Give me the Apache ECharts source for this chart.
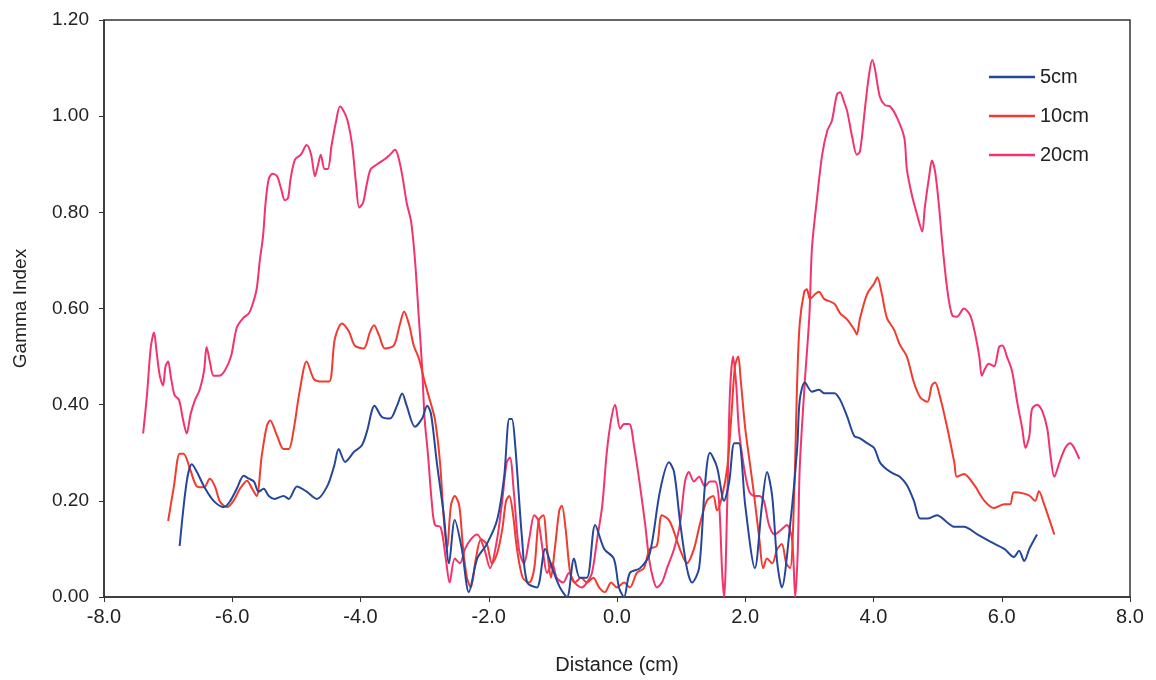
<!DOCTYPE html>
<html>
<head>
<meta charset="utf-8">
<script src="https://cdn.jsdelivr.net/npm/echarts@6/dist/echarts.min.js"></script>
<style>
  html, body { margin: 0; padding: 0; background: #ffffff; }
  #chart { width: 1156px; height: 680px; }
</style>
</head>
<body>
<div id="chart"></div>
<script>
// Gamma index profiles across the field at three depths
const seriesNames = ['5cm', '10cm', '20cm'];

const x5 = [-6.82,-6.71,-6.63,-6.55,-6.44,-6.29,-6.13,-6.04,-5.93,-5.82,-5.74,-5.66,-5.59,-5.51,-5.43,-5.34,-5.20,-5.12,-4.99,-4.84,-4.68,-4.52,-4.41,-4.34,-4.24,-4.10,-3.98,-3.90,-3.78,-3.67,-3.54,-3.43,-3.35,-3.28,-3.15,-3.04,-2.96,
  -2.90,-2.81,-2.70,-2.62,-2.53,-2.42,-2.31,-2.18,-2.03,-1.87,-1.76,-1.68,-1.64,-1.59,-1.48,-1.40,-1.25,-1.12,-1.01,-0.89,-0.78,-0.67,-0.58,-0.47,-0.34,-0.20,-0.05,0.03,0.11,0.20,0.36,0.51,0.67,0.81,0.89,0.98,1.09,1.17,1.28,1.37,1.45,1.56,1.67,1.75,1.83,1.90,2.00,2.15,2.26,2.34,2.42,2.50,2.57,2.70,2.81,2.85,
  2.93,3.04,3.15,3.23,3.39,3.48,3.59,3.70,3.79,3.90,4.01,4.10,4.21,4.32,4.41,4.52,4.63,4.73,4.84,4.99,5.15,5.26,5.41,5.62,5.82,6.04,6.19,6.27,6.35,6.43,6.55];
const y5 = [0.106,0.24,0.276,0.26,0.23,0.20,0.187,0.198,0.225,0.252,0.246,0.24,0.219,0.225,0.21,0.204,0.21,0.204,0.23,0.219,0.204,0.23,0.273,0.308,0.281,0.302,0.315,0.344,0.398,0.375,0.371,0.398,0.423,0.398,0.354,0.371,0.398,
  0.38,0.28,0.17,0.07,0.16,0.10,0.01,0.08,0.11,0.16,0.25,0.37,0.37,0.32,0.12,0.03,0.02,0.10,0.06,0.02,0.00,0.08,0.04,0.04,0.15,0.10,0.08,0.02,0.00,0.05,0.06,0.09,0.22,0.28,0.26,0.16,0.06,0.03,0.06,0.23,0.30,0.27,0.20,0.24,0.32,0.32,0.19,0.06,0.19,0.26,0.21,0.07,0.02,0.15,0.31,0.41,
  0.446,0.427,0.431,0.424,0.424,0.41,0.375,0.335,0.33,0.32,0.31,0.28,0.265,0.256,0.25,0.233,0.20,0.163,0.163,0.17,0.155,0.146,0.146,0.13,0.115,0.10,0.083,0.096,0.075,0.10,0.13];

const x10 = [-7.00,-6.91,-6.82,-6.76,-6.66,-6.55,-6.44,-6.35,-6.27,-6.19,-6.08,-5.98,-5.88,-5.77,-5.69,-5.62,-5.54,-5.46,-5.41,-5.30,-5.20,-5.12,-5.04,-4.95,-4.84,-4.73,-4.63,-4.49,-4.40,-4.29,-4.18,-4.09,-3.95,-3.85,-3.79,-3.71,-3.62,-3.48,-3.39,-3.32,-3.24,-3.17,-3.09,-3.00,-2.92,
  -2.84,-2.76,-2.70,-2.65,-2.59,-2.53,-2.46,-2.40,-2.34,-2.28,-2.20,-2.12,-2.03,-1.95,-1.87,-1.79,-1.73,-1.68,-1.62,-1.56,-1.47,-1.37,-1.29,-1.22,-1.15,-1.09,-1.03,-0.97,-0.90,-0.86,-0.80,-0.73,-0.66,-0.56,-0.47,-0.37,-0.28,-0.19,-0.09,0.00,0.11,0.20,0.31,0.42,0.51,0.62,0.70,0.81,0.89,0.98,1.09,1.20,1.29,1.40,1.50,1.56,1.64,1.72,1.78,1.84,1.89,1.93,2.00,2.06,2.14,2.22,2.28,2.34,2.42,2.50,2.57,2.64,2.70,2.76,2.81,2.85,
  2.92,2.96,3.01,3.09,3.15,3.23,3.39,3.48,3.59,3.70,3.74,3.79,3.90,4.01,4.06,4.13,4.21,4.32,4.41,4.52,4.63,4.73,4.84,4.91,4.96,5.04,5.15,5.26,5.30,5.41,5.57,5.73,5.88,6.04,6.13,6.19,6.35,6.44,6.52,6.58,6.66,6.82];
const y10 = [0.158,0.23,0.298,0.298,0.267,0.23,0.228,0.246,0.23,0.198,0.187,0.20,0.225,0.242,0.225,0.21,0.294,0.356,0.367,0.335,0.308,0.308,0.35,0.427,0.49,0.454,0.448,0.448,0.537,0.569,0.552,0.523,0.517,0.552,0.565,0.544,0.517,0.523,0.565,0.594,0.565,0.523,0.496,0.448,0.41,
  0.37,0.28,0.16,0.10,0.19,0.21,0.19,0.10,0.04,0.02,0.08,0.12,0.11,0.07,0.09,0.14,0.20,0.21,0.17,0.10,0.04,0.03,0.06,0.16,0.17,0.10,0.04,0.10,0.18,0.19,0.14,0.05,0.03,0.04,0.03,0.04,0.02,0.01,0.03,0.02,0.03,0.02,0.05,0.06,0.10,0.106,0.17,0.16,0.135,0.10,0.07,0.10,0.15,0.20,0.21,0.18,0.21,0.27,0.37,0.48,0.50,0.45,0.35,0.29,0.21,0.12,0.06,0.08,0.07,0.10,0.11,0.07,0.06,0.20,0.45,0.57,
  0.635,0.64,0.62,0.63,0.635,0.62,0.61,0.59,0.577,0.556,0.546,0.58,0.63,0.652,0.665,0.63,0.58,0.556,0.525,0.50,0.446,0.415,0.406,0.44,0.446,0.415,0.352,0.28,0.25,0.256,0.233,0.20,0.185,0.193,0.193,0.218,0.215,0.21,0.20,0.22,0.193,0.13];

const x20 = [-7.39,-7.33,-7.27,-7.22,-7.18,-7.13,-7.08,-7.04,-7.00,-6.96,-6.90,-6.83,-6.77,-6.71,-6.65,-6.58,-6.51,-6.44,-6.40,-6.35,-6.29,-6.21,-6.12,-6.02,-5.93,-5.83,-5.74,-5.68,-5.62,-5.57,-5.52,-5.48,-5.43,-5.37,-5.30,-5.24,-5.18,-5.13,-5.09,-5.02,-4.93,-4.84,-4.77,-4.71,-4.66,-4.62,-4.56,-4.51,-4.45,-4.38,-4.32,-4.26,-4.20,-4.13,-4.07,-4.02,-3.96,-3.90,-3.84,-3.74,-3.63,-3.54,-3.46,-3.40,-3.34,-3.28,-3.21,-3.15,-3.09,-3.04,-3.00,-2.95,
  -2.89,-2.84,-2.75,-2.67,-2.61,-2.53,-2.45,-2.37,-2.28,-2.18,-2.07,-1.98,-1.87,-1.79,-1.72,-1.67,-1.61,-1.53,-1.45,-1.37,-1.29,-1.23,-1.15,-1.09,-1.01,-0.94,-0.84,-0.75,-0.66,-0.55,-0.47,-0.39,-0.31,-0.23,-0.16,-0.09,-0.03,0.05,0.11,0.19,0.27,0.36,0.44,0.50,0.56,0.62,0.70,0.78,0.89,0.98,1.06,1.12,1.20,1.28,1.37,1.45,1.53,1.59,1.64,1.67,1.72,1.76,1.81,1.86,1.90,1.98,2.06,2.14,2.22,2.29,2.37,2.46,2.56,2.65,2.73,2.78,2.82,2.85,
  2.93,3.00,3.04,3.12,3.20,3.28,3.35,3.43,3.48,3.54,3.59,3.67,3.74,3.79,3.87,3.93,3.98,4.02,4.10,4.18,4.26,4.37,4.48,4.52,4.60,4.68,4.76,4.80,4.87,4.91,4.96,5.02,5.07,5.15,5.23,5.30,5.41,5.51,5.59,5.65,5.69,5.74,5.80,5.88,5.96,6.01,6.08,6.16,6.24,6.32,6.37,6.43,6.47,6.55,6.63,6.71,6.76,6.82,6.90,6.99,7.07,7.13,7.21];
const y20 = [0.34,0.42,0.52,0.55,0.51,0.46,0.44,0.48,0.49,0.46,0.42,0.41,0.37,0.34,0.38,0.41,0.43,0.47,0.52,0.49,0.46,0.46,0.47,0.50,0.56,0.58,0.59,0.61,0.64,0.70,0.75,0.82,0.87,0.88,0.875,0.85,0.825,0.83,0.87,0.91,0.92,0.94,0.92,0.875,0.90,0.92,0.89,0.89,0.94,0.99,1.02,1.01,0.99,0.94,0.86,0.81,0.82,0.86,0.89,0.90,0.91,0.92,0.93,0.91,0.87,0.82,0.78,0.70,0.58,0.48,0.37,0.30,
  0.20,0.15,0.145,0.08,0.03,0.08,0.07,0.10,0.12,0.13,0.10,0.06,0.12,0.20,0.28,0.29,0.22,0.10,0.07,0.12,0.17,0.16,0.09,0.05,0.07,0.04,0.03,0.05,0.03,0.02,0.03,0.05,0.12,0.19,0.30,0.37,0.40,0.35,0.36,0.36,0.31,0.23,0.15,0.08,0.04,0.02,0.03,0.06,0.10,0.15,0.24,0.26,0.24,0.25,0.23,0.24,0.24,0.20,0.05,0.00,0.20,0.42,0.50,0.44,0.35,0.27,0.22,0.21,0.21,0.20,0.15,0.13,0.14,0.15,0.12,0.00,0.10,0.27,
  0.45,0.585,0.725,0.83,0.92,0.97,0.99,1.045,1.05,1.03,1.01,0.955,0.92,0.927,1.02,1.086,1.117,1.10,1.04,1.023,1.02,0.996,0.955,0.89,0.835,0.795,0.76,0.81,0.877,0.908,0.885,0.815,0.74,0.64,0.585,0.583,0.60,0.585,0.544,0.50,0.46,0.475,0.485,0.48,0.52,0.523,0.50,0.47,0.406,0.35,0.31,0.335,0.39,0.40,0.387,0.35,0.294,0.25,0.28,0.31,0.32,0.31,0.287];

const xTicks = { min: -8, max: 8, interval: 2 };
const yTicks = { min: 0, max: 1.2, interval: 0.2 };

const colors = ['#24479a', '#f23a2e', '#f2336c'];

function pairs(xs, ys) {
  return xs.map((x, i) => [x, ys[i]]);
}
const seriesData = [pairs(x5, y5), pairs(x10, y10), pairs(x20, y20)];

const textFont = '"Liberation Sans", Arial, sans-serif';

const chart = echarts.init(document.getElementById('chart'), null, { renderer: 'canvas' });
chart.setOption({
  backgroundColor: '#ffffff',
  animation: false,
  color: colors,
  grid: {
    left: 104, right: 26, top: 20, bottom: 82,
    show: true, borderColor: '#333333', borderWidth: 1.5, backgroundColor: 'transparent'
  },
  legend: {
    orient: 'vertical',
    left: 984, top: 62,
    icon: 'rect',
    itemWidth: 46, itemHeight: 2.5, itemGap: 19,
    textStyle: { fontFamily: textFont, fontSize: 20, color: '#222222' },
    data: seriesNames
  },
  xAxis: {
    type: 'value',
    min: xTicks.min, max: xTicks.max, interval: xTicks.interval,
    name: 'Distance (cm)', nameLocation: 'middle', nameGap: 58,
    nameTextStyle: { fontFamily: textFont, fontSize: 20, color: '#222222' },
    axisLine: { onZero: false, lineStyle: { color: '#333333', width: 1.5 } },
    axisTick: { show: true, length: 5, lineStyle: { color: '#333333' } },
    axisLabel: {
      margin: 10, fontFamily: textFont, fontSize: 20, color: '#222222',
      formatter: v => v.toFixed(1)
    },
    splitLine: { show: false }
  },
  yAxis: {
    type: 'value',
    min: yTicks.min, max: yTicks.max, interval: yTicks.interval,
    name: 'Gamma Index', nameLocation: 'middle', nameGap: 74, nameRotate: 90,
    nameTextStyle: { fontFamily: textFont, fontSize: 19, color: '#222222' },
    axisLine: { show: true, onZero: false, lineStyle: { color: '#333333', width: 1.5 } },
    axisTick: { show: true, length: 5, lineStyle: { color: '#333333' } },
    axisLabel: {
      margin: 15, fontFamily: textFont, fontSize: 19, color: '#222222',
      formatter: v => v.toFixed(2)
    },
    splitLine: { show: false }
  },
  series: seriesNames.map((name, i) => ({
    name: name,
    type: 'line',
    data: seriesData[i],
    symbol: 'none',
    smooth: 0.3,
    lineStyle: { width: 2, color: colors[i] },
    itemStyle: { color: colors[i] },
    z: 3 - i
  }))
});
</script>
</body>
</html>
